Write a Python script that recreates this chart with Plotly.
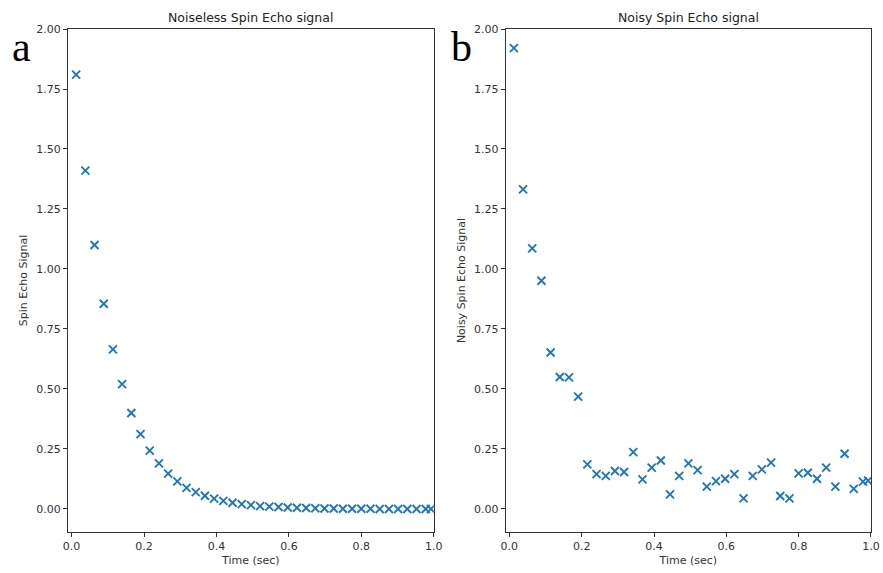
import plotly.graph_objects as go

time_sec = [0.0125, 0.0379, 0.0633, 0.0887, 0.1141, 0.1395, 0.1649, 0.1903, 0.2157, 0.2411,
            0.2665, 0.2919, 0.3173, 0.3427, 0.3681, 0.3935, 0.4189, 0.4443, 0.4697, 0.4951,
            0.5205, 0.5459, 0.5713, 0.5967, 0.6221, 0.6475, 0.6729, 0.6983, 0.7237, 0.7491,
            0.7745, 0.7999, 0.8253, 0.8507, 0.8761, 0.9015, 0.9269, 0.9523, 0.9777, 0.9920]

noiseless_signal = [1.81, 1.41, 1.10, 0.855, 0.665, 0.52, 0.40, 0.312, 0.243, 0.19,
                    0.147, 0.115, 0.088, 0.07, 0.055, 0.043, 0.034, 0.026, 0.02, 0.016,
                    0.012, 0.01, 0.008, 0.006, 0.005, 0.004, 0.003, 0.002, 0.002, 0.001,
                    0.001, 0.001, 0.001, 0.0, 0.0, 0.0, 0.0, 0.0, 0.0, 0.0]

noisy_signal = [1.92, 1.332, 1.086, 0.951, 0.652, 0.55, 0.548, 0.468, 0.186, 0.145,
                0.138, 0.158, 0.154, 0.237, 0.123, 0.172, 0.202, 0.061, 0.138, 0.19,
                0.162, 0.093, 0.116, 0.126, 0.145, 0.044, 0.138, 0.165, 0.193, 0.054,
                0.044, 0.148, 0.151, 0.126, 0.172, 0.093, 0.23, 0.084, 0.114, 0.118]

x_ticks = [0.0, 0.2, 0.4, 0.6, 0.8, 1.0]
y_ticks = [0.0, 0.25, 0.5, 0.75, 1.0, 1.25, 1.5, 1.75, 2.0]

W, H = 883, 573
ML, MR, MT, MB = 68, 11.5, 29, 41
PW, PH = W - ML - MR, H - MT - MB
BLUE = "#1f77b4"
FONT = "DejaVu Sans"


def px_x(px):
    return (px - ML) / PW


def px_y(py):
    return (H - MB - py) / PH


fig = go.Figure()
marker = dict(symbol="x-thin", size=8, color=BLUE, line=dict(color=BLUE, width=1.9))
fig.add_trace(go.Scatter(x=time_sec, y=noiseless_signal, mode="markers", marker=marker,
                         xaxis="x", yaxis="y", showlegend=False))
fig.add_trace(go.Scatter(x=time_sec, y=noisy_signal, mode="markers", marker=marker,
                         xaxis="x2", yaxis="y2", showlegend=False))

xdom1 = [0.0, px_x(434)]
xdom2 = [px_x(506), 1.0]


def xaxis(dom, anchor):
    return dict(domain=dom, anchor=anchor, range=[-0.01, 1.0], tickvals=x_ticks,
                ticktext=[f"{v:.1f}" for v in x_ticks], ticks="outside", ticklen=4,
                tickcolor="#333", showline=True, linecolor="#333", linewidth=1.2, mirror=True,
                showgrid=False, zeroline=False, automargin=False,
                tickfont=dict(family=FONT, size=11, color="#333"),
                title=dict(text="Time (sec)", font=dict(family=FONT, size=11, color="#333"), standoff=4))


def yaxis(anchor, title):
    return dict(domain=[0, 1], anchor=anchor, range=[-0.096, 2.0], tickvals=y_ticks,
                ticktext=[f"{v:.2f}" for v in y_ticks], ticks="outside", ticklen=4,
                tickcolor="#333", showline=True, linecolor="#333", linewidth=1.2, mirror=True,
                showgrid=False, zeroline=False, automargin=False,
                tickfont=dict(family=FONT, size=11, color="#333"),
                title=dict(text=title, font=dict(family=FONT, size=11, color="#333"), standoff=6))


fig.update_layout(
    width=W, height=H, margin=dict(l=ML, r=MR, t=MT, b=MB, autoexpand=False),
    paper_bgcolor="white", plot_bgcolor="white",
    xaxis=xaxis(xdom1, "y"), yaxis=yaxis("x", "Spin Echo Signal"),
    xaxis2=xaxis(xdom2, "y2"), yaxis2=yaxis("x2", "Noisy Spin Echo Signal"),
    annotations=[
        dict(text="Noiseless Spin Echo signal", x=(xdom1[0] + xdom1[1]) / 2, y=px_y(17.5),
             xref="paper", yref="paper", showarrow=False, xanchor="center", yanchor="middle",
             font=dict(family=FONT, size=12.5, color="#222")),
        dict(text="Noisy Spin Echo signal", x=(xdom2[0] + xdom2[1]) / 2, y=px_y(17.5),
             xref="paper", yref="paper", showarrow=False, xanchor="center", yanchor="middle",
             font=dict(family=FONT, size=12.5, color="#222")),
        dict(text="a", x=px_x(21), y=px_y(72), xref="paper", yref="paper", showarrow=False,
             xanchor="center", yanchor="bottom",
             font=dict(family="Liberation Serif", size=42, color="black")),
        dict(text="b", x=px_x(462), y=px_y(72), xref="paper", yref="paper", showarrow=False,
             xanchor="center", yanchor="bottom",
             font=dict(family="Liberation Serif", size=42, color="black")),
    ],
)

fig.write_html("out.html", config={"displayModeBar": False},
               post_script="document.body.style.margin='0';document.body.style.overflow='hidden';")
